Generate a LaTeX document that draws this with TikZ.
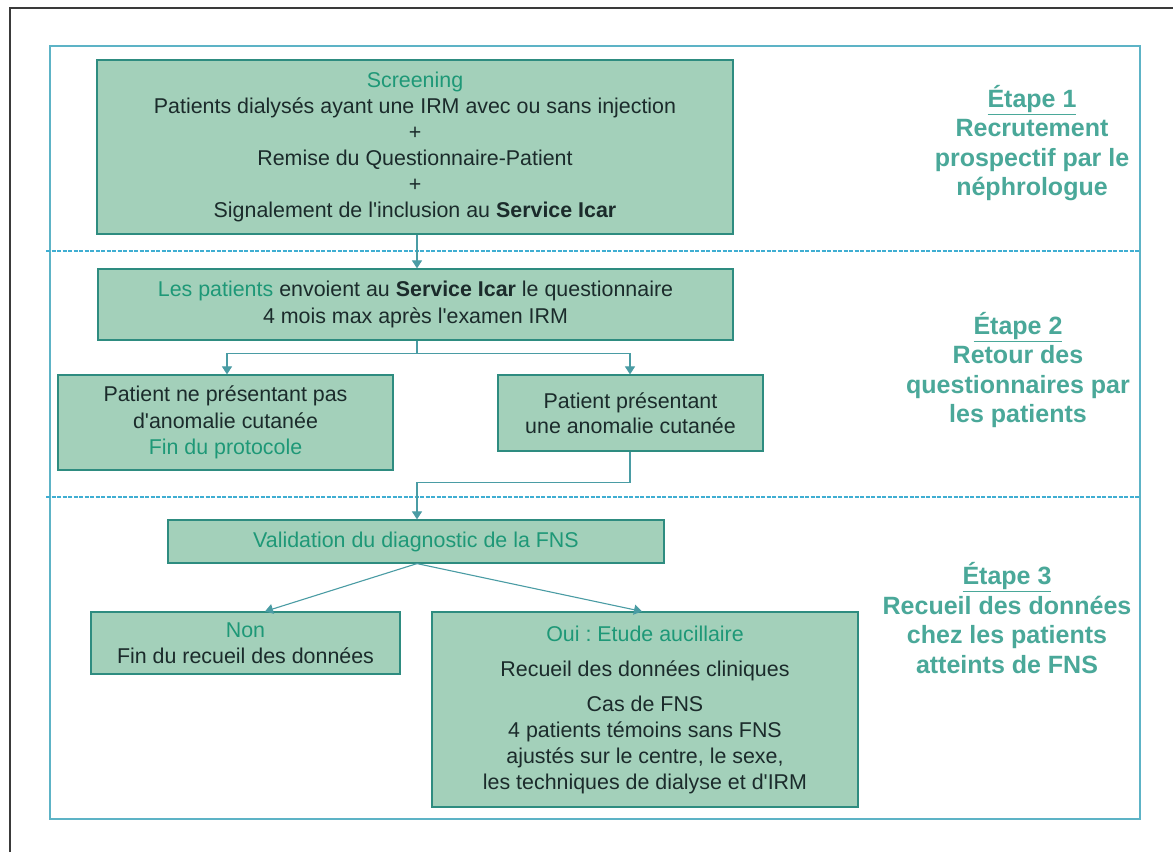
\documentclass[tikz,border=0pt]{standalone}
\usepackage{fontspec}
\setmainfont{Liberation Sans}
\usetikzlibrary{arrows.meta}
\definecolor{boxfill}{HTML}{A3D0BA}
\definecolor{boxline}{HTML}{2E8C80}
\definecolor{greentxt}{HTML}{1E9877}
\definecolor{darktxt}{HTML}{1B2B2B}
\definecolor{arrowc}{HTML}{4A9CA4}
\definecolor{labelc}{HTML}{4AA899}
\definecolor{framec}{HTML}{5DB3C6}
\definecolor{dashc}{HTML}{3FAED2}
\definecolor{outerc}{HTML}{3A3A3A}
\newcommand{\gt}[1]{\textcolor{greentxt}{#1}}
\newcommand{\ap}{\textquotesingle}
\frenchspacing
\tikzset{
  flowbox/.style={draw=boxline, line width=1.2pt, fill=boxfill, align=center,
    text=darktxt, inner sep=0pt, font=\fontsize{21.4}{26}\selectfont},
  flowarrow/.style={draw=arrowc, line width=1.1pt, -{Triangle[width=10pt,length=8pt]}},
  flowline/.style={draw=arrowc, line width=1.1pt},
  sepline/.style={draw=dashc, line width=1.2pt, dash pattern=on 4pt off 1.5pt},
  steplabel/.style={align=center, text=labelc, font=\bfseries\fontsize{25}{29.5}\selectfont}
}
\begin{document}
\begin{tikzpicture}[x=1pt,y=-1pt]
\useasboundingbox (0,0) rectangle (1173,852);
\fill[white] (0,0) rectangle (1173,852);
% outer frame
\draw[outerc, line width=1.3pt] (10,852) -- (10,8) -- (1173,8);
% inner frame
\draw[framec, line width=1.2pt] (50,46) rectangle (1140,819);
% separators
\draw[sepline] (46,251) -- (1140,251);
\draw[sepline] (46,497) -- (1140,497);

% boxes
\node[flowbox, minimum width=636pt, minimum height=174pt] (b1) at (415,147)
 {\gt{Screening}\\
  Patients dialysés ayant une IRM avec ou sans injection\\
  +\\
  Remise du Questionnaire-Patient\\
  +\\
  Signalement de l\ap inclusion au \textbf{Service Icar}};
\node[flowbox, minimum width=635pt, minimum height=71pt, font=\fontsize{21.4}{27}\selectfont] (b2) at (415.5,304.5)
 {\gt{Les patients} envoient au \textbf{Service Icar} le questionnaire\\
  4 mois max après l\ap examen IRM};
\node[flowbox, minimum width=335pt, minimum height=95pt, font=\fontsize{21.4}{26.5}\selectfont] (b3) at (225.5,422.5)
 {Patient ne présentant pas\\
  d\ap anomalie cutanée\\
  \gt{Fin du protocole}};
\node[flowbox, minimum width=265pt, minimum height=76pt, font=\fontsize{21.4}{25.5}\selectfont] (b4) at (630.5,413)
 {Patient présentant\\
  une anomalie cutanée};
\node[flowbox, minimum width=496pt, minimum height=43pt] (b5) at (416,541.5)
 {\gt{Validation du diagnostic de la FNS}};
\node[flowbox, minimum width=309pt, minimum height=62pt] (b6) at (245.5,643)
 {\gt{Non}\\
  Fin du recueil des données};
\node[flowbox, minimum width=426pt, minimum height=195pt] (b7) at (645,709.5)
 {\gt{Oui : Etude aucillaire}\\[9pt]
  Recueil des données cliniques\\[9pt]
  Cas de FNS\\
  4 patients témoins sans FNS\\
  ajustés sur le centre, le sexe,\\
  les techniques de dialyse et d\ap IRM};

% connectors
\draw[flowarrow] ([xshift=2pt]b1.south) -- ([xshift=1.5pt]b2.north);
\coordinate (split) at ([xshift=1.5pt, yshift=-13pt]b2.south);
\draw[flowline] ([xshift=1.5pt]b2.south) -- (split);
\draw[flowarrow] (split) -| ([xshift=1.5pt]b3.north);
\draw[flowarrow] (split) -| ([xshift=-0.5pt]b4.north);
\coordinate (join) at ([xshift=-0.5pt, yshift=-31pt]b4.south);
\draw[flowline] ([xshift=-0.5pt]b4.south) -- (join);
\draw[flowarrow] (join) -| ([xshift=1pt]b5.north);
\draw[flowarrow] ([xshift=1pt]b5.south) -- ([xshift=19.5pt]b6.north);
\draw[flowarrow] ([xshift=1pt]b5.south) -- ([xshift=-3pt]b7.north);

% step labels
\node[steplabel] (e1) at (1032,143)
 {\underline{Étape 1}\\ Recrutement\\ prospectif par le\\ néphrologue};
\node[steplabel] (e2) at (1018,370)
 {\underline{Étape 2}\\ Retour des\\ questionnaires par\\ les patients};
\node[steplabel] (e3) at (1007,618)
 {\underline{Étape 3}\\ Recueil des données\\ chez les patients\\ atteints de FNS};
\end{tikzpicture}
\end{document}
